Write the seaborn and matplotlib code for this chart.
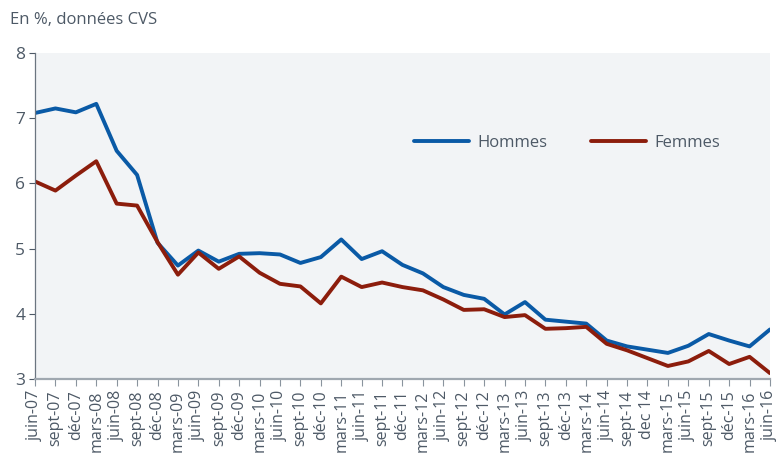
import matplotlib
matplotlib.use("Agg")
import matplotlib.pyplot as plt
import pandas as pd
import seaborn as sns

# quarterly labels as printed on the source chart
trimestres = [
    "juin-07", "sept-07", "déc-07", "mars-08", "juin-08", "sept-08", "déc-08",
    "mars-09", "juin-09", "sept-09", "déc-09", "mars-10", "juin-10", "sept-10",
    "déc-10", "mars-11", "juin-11", "sept-11", "déc-11", "mars-12", "juin-12",
    "sept-12", "déc-12", "mars-13", "juin-13", "sept-13", "déc-13", "mars-14",
    "juin-14", "sept-14", "dec 14", "mars-15", "juin-15", "sept-15", "déc-15",
    "mars-16", "juin-16",
]

hommes = [
    7.08, 7.15, 7.09, 7.22, 6.50, 6.13, 5.09, 4.74, 4.97, 4.80, 4.92, 4.93,
    4.91, 4.78, 4.87, 5.14, 4.84, 4.96, 4.75, 4.62, 4.41, 4.29, 4.23, 3.99,
    4.18, 3.91, 3.88, 3.85, 3.59, 3.50, 3.45, 3.40, 3.51, 3.69, 3.59, 3.50,
    3.76,
]

femmes = [
    6.03, 5.89, 6.12, 6.34, 5.69, 5.66, 5.10, 4.60, 4.94, 4.69, 4.88, 4.63,
    4.46, 4.42, 4.16, 4.57, 4.41, 4.48, 4.41, 4.36, 4.22, 4.06, 4.07, 3.95,
    3.98, 3.77, 3.78, 3.80, 3.54, 3.44, 3.32, 3.20, 3.27, 3.43, 3.23, 3.34,
    3.09,
]

df = pd.DataFrame({
    "pos": list(range(len(trimestres))) * 2,
    "taux": hommes + femmes,
    "sexe": ["Hommes"] * len(hommes) + ["Femmes"] * len(femmes),
})

sns.set_style("white")
plt.rcParams["font.family"] = ["Open Sans", "DejaVu Sans"]

grey = "#4d5966"
fig = plt.figure(figsize=(7.78, 4.55), dpi=100)
ax = fig.add_axes([0.045, 0.167, 0.9447, 0.7165])
ax.set_facecolor("#f2f4f6")

sns.lineplot(
    data=df, x="pos", y="taux", hue="sexe", ax=ax,
    palette={"Hommes": "#0a5aa6", "Femmes": "#8c1d0c"},
    linewidth=2.8, legend=True,
)

ax.set_xlim(0, len(trimestres) - 1)
ax.set_ylim(3, 8)
ax.set_xticks(range(len(trimestres)))
ax.set_xticklabels(trimestres, rotation=90, fontsize=11.5, color=grey)
ax.set_yticks([3, 4, 5, 6, 7, 8])
ax.tick_params(axis="y", labelsize=12.5, colors=grey, length=4, width=0.8, direction="out", left=True, pad=3)
ax.tick_params(axis="x", colors="#8a949e", labelcolor=grey, length=5, width=0.8, direction="out", bottom=True, pad=3)
ax.set_xlabel("")
ax.set_ylabel("")

for s in ["top", "right"]:
    ax.spines[s].set_visible(False)
ax.spines["left"].set_color("#6b7580")
ax.spines["left"].set_linewidth(0.9)
ax.spines["bottom"].set_color("#a0a8b0")
ax.spines["bottom"].set_linewidth(1.6)

leg = ax.legend(
    loc="center", bbox_to_anchor=(0.724, 0.724), ncol=2, frameon=False,
    fontsize=12, handlelength=3.3, columnspacing=2.6, handletextpad=0.5,
)
for t in leg.get_texts():
    t.set_color(grey)

fig.text(0.013, 0.956, "En %, données CVS", fontsize=12, color=grey, va="center")

fig.savefig("out.png", dpi=100)
